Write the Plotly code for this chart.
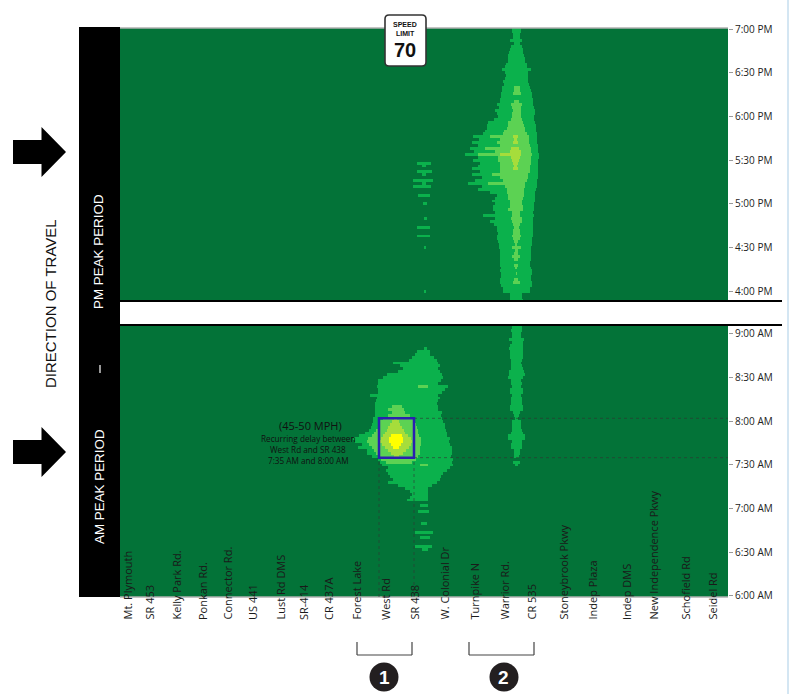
import numpy as np
import plotly.graph_objects as go

W, H = 790, 694

# ---------- data ----------
segment_names = ["Mt. Plymouth", "SR 453", "Kelly Park Rd.", "Ponkan Rd.", "Connector Rd.", "US 441",
                 "Lust Rd DMS", "SR-414", "CR 437A", "Forest Lake", "West Rd", "SR 438", "W. Colonial Dr",
                 "Turnpike N", "Warrior Rd.", "CR 535", "Stoneybrook Pkwy", "Indep Plaza", "Indep DMS",
                 "New Independence Pkwy", "Schofield Rd", "Seidel Rd"]
segment_pos = [127, 149, 176, 202, 227, 252, 280, 303, 328, 356, 385, 414, 444, 474, 504, 531, 563, 592, 626,
               653, 685, 712]

am_tick_vals = [360, 390, 420, 450, 480, 510, 540]
am_tick_text = ["6:00 AM", "6:30 AM", "7:00 AM", "7:30 AM", "8:00 AM", "8:30 AM", "9:00 AM"]
pm_tick_vals = [960, 990, 1020, 1050, 1080, 1110, 1140]
pm_tick_text = ["4:00 PM", "4:30 PM", "5:00 PM", "5:30 PM", "6:00 PM", "6:30 PM", "7:00 PM"]

# Extents of each speed band along the corridor, one entry every 2 minutes going back in time.
# 0 = the band is absent in that interval.
am_west_b1_start = 530
am_west_b1_left = [424, 417, 415, 412, 409, 393, 400, 403, 398, 387, 383, 378, 378, 377, 378, 378, 370, 377, 376,
                   375, 375, 375, 375, 375, 373, 373, 372, 371, 369, 365, 359, 353, 355, 362, 358, 367, 367, 372,
                   378, 380, 382, 388, 386, 388, 390, 393, 388, 398, 405, 410, 412, 410, 407, 0, 420, 0, 418,
                   0, 0, 0, 421, 0, 0, 415, 0, 420, 0, 0, 415, 422]
am_west_b1_right = [427, 430, 430, 434, 437, 438, 440, 438, 440, 442, 443, 441, 438, 448, 445, 442, 438, 440, 438,
                    437, 438, 438, 442, 441, 442, 443, 445, 445, 446, 447, 447, 450, 449, 450, 452, 452, 452, 451,
                    453, 452, 453, 450, 447, 443, 441, 440, 437, 432, 428, 428, 428, 428, 428, 0, 428, 0, 429,
                    0, 0, 0, 427, 0, 0, 433, 0, 430, 0, 0, 432, 428]
am_west_b2_start = 504
am_west_b2_left = [418, 0, 0, 0, 0, 0, 0, 392, 388, 392, 388, 383, 380, 379, 378, 376, 374, 372, 368, 367, 369,
                   372, 374, 376, 379, 381, 386, 420]
am_west_b2_right = [428, 0, 0, 0, 0, 0, 0, 402, 404, 405, 410, 415, 415, 416, 417, 418, 418, 419, 421, 421, 421,
                    420, 420, 420, 418, 416, 412, 428]
am_west_b3_start = 482
am_west_b3_left = [394, 392, 390, 388, 387, 385, 383, 381, 380, 382, 385, 388, 391, 394]
am_west_b3_right = [397, 399, 400, 402, 404, 405, 408, 411, 412, 411, 409, 406, 403, 399]
am_west_b4_start = 470
am_west_b4_left = [391, 389, 389, 391, 393]
am_west_b4_right = [402, 403, 403, 401, 399]

am_cr535_b1_start = 546
am_cr535_b1_left = [512, 512, 511, 512, 512, 509, 512, 510, 509, 510, 510, 510, 511, 511, 511, 511, 509, 509, 508,
                    511, 511, 512, 510, 510, 512, 511, 511, 511, 510, 510, 513, 514, 515, 512, 512, 512, 512, 511,
                    508, 508, 512, 511, 511, 514, 514, 514, 0, 513, 515]
am_cr535_b1_right = [522, 522, 522, 521, 521, 524, 523, 523, 523, 523, 523, 523, 522, 521, 522, 523, 524, 525, 523,
                     521, 522, 521, 523, 523, 521, 522, 522, 522, 523, 523, 520, 519, 518, 521, 521, 521, 522, 523,
                     525, 525, 522, 522, 522, 520, 520, 519, 0, 520, 518]

pm_cr535_b1_start = 1140
pm_cr535_b1_left = [512, 512, 513, 513, 510, 514, 511, 510, 509, 508, 508, 508, 506, 505, 502, 505, 506, 505, 503,
                    504, 502, 502, 501, 501, 500, 500, 497, 499, 495, 497, 498, 494, 488, 487, 487, 485, 483, 473,
                    479, 472, 478, 470, 474, 465, 478, 473, 480, 478, 472, 480, 472, 482, 475, 468, 482, 478, 490,
                    497, 495, 492, 495, 493, 493, 495, 483, 495, 490, 494, 497, 497, 498, 497, 497, 498, 499, 499,
                    500, 500, 500, 500, 500, 500, 501, 500, 501, 501, 500, 500, 501, 503, 503, 510, 510, 510]
pm_cr535_b1_right = [521, 521, 520, 520, 522, 520, 522, 523, 523, 524, 525, 525, 527, 527, 531, 528, 528, 528, 528,
                     529, 530, 531, 532, 532, 533, 533, 533, 534, 535, 535, 534, 534, 535, 536, 536, 536, 537, 537,
                     537, 537, 538, 538, 538, 539, 539, 538, 538, 538, 538, 538, 538, 538, 537, 537, 537, 536, 535,
                     535, 535, 535, 534, 534, 534, 533, 534, 533, 533, 533, 533, 533, 533, 533, 532, 532, 532, 531,
                     531, 531, 531, 531, 530, 530, 531, 532, 532, 531, 531, 532, 532, 530, 530, 522, 522, 523]
pm_cr535_b2_start = 1100
pm_cr535_b2_left = [514, 514, 513, 0, 0, 514, 511, 512, 513, 512, 512, 511, 508, 508, 507, 504, 503, 490, 500, 497,
                    500, 485, 495, 478, 498, 498, 500, 500, 500, 500, 492, 500, 503, 488, 505, 507, 507, 508, 508,
                    510, 510, 510, 508, 512, 512, 511, 512, 513, 514, 513, 513, 512, 513, 514, 515, 512, 515, 514,
                    512, 514, 0, 514, 515, 0, 516, 0, 514, 513]
pm_cr535_b2_right = [520, 520, 521, 0, 0, 519, 522, 521, 521, 521, 521, 522, 523, 524, 525, 525, 527, 529, 529, 529,
                     530, 531, 531, 532, 531, 531, 531, 530, 530, 530, 528, 528, 527, 525, 525, 524, 524, 524, 523,
                     522, 522, 523, 523, 520, 520, 522, 522, 520, 519, 520, 520, 521, 520, 518, 517, 521, 518, 518,
                     520, 518, 0, 518, 517, 0, 517, 0, 518, 520]
pm_cr535_b3_start = 1066
pm_cr535_b3_left = [513, 514, 513, 0, 511, 510, 500, 511, 512, 513, 514, 513]
pm_cr535_b3_right = [518, 517, 518, 0, 519, 521, 521, 520, 519, 518, 517, 518]

pm_sr438_b1_start = 1048
pm_sr438_b1_left = [417, 422, 0, 417, 422, 0, 413, 422, 413, 0, 0, 418, 0, 0, 423, 0, 0, 0, 0, 424, 0, 0, 417, 0, 0,
                    417, 0, 0, 0, 424, 0, 0, 0, 0, 0, 0, 0, 0, 0, 0, 0, 0, 0, 0, 424]
pm_sr438_b1_right = [431, 426, 0, 432, 426, 0, 433, 426, 431, 0, 0, 430, 0, 0, 427, 0, 0, 0, 0, 427, 0, 0, 430, 0, 0,
                     430, 0, 0, 0, 426, 0, 0, 0, 0, 0, 0, 0, 0, 0, 0, 0, 0, 0, 0, 426]

band_colors = ["#037338", "#0bb14c", "#5cd253", "#a6dd3b", "#ffff00"]

# ---------- build grids ----------
station = np.arange(120, 728) + 0.5
am_times = np.arange(546, 358, -2)
pm_times = np.arange(1140, 952, -2)
am_z = np.zeros((len(am_times), len(station)))
pm_z = np.zeros((len(pm_times), len(station)))


def paint(z, times, start, lefts, rights, level):
    for k, (l, r) in enumerate(zip(lefts, rights)):
        if l == 0:
            continue
        t = start - 2 * k
        row = np.where(times == t)[0]
        if len(row):
            z[row[0], (station >= l) & (station <= r)] = level


paint(am_z, am_times, am_west_b1_start, am_west_b1_left, am_west_b1_right, 1)
paint(am_z, am_times, am_cr535_b1_start, am_cr535_b1_left, am_cr535_b1_right, 1)
paint(am_z, am_times, am_west_b2_start, am_west_b2_left, am_west_b2_right, 2)
paint(am_z, am_times, am_west_b3_start, am_west_b3_left, am_west_b3_right, 3)
paint(am_z, am_times, am_west_b4_start, am_west_b4_left, am_west_b4_right, 4)
paint(pm_z, pm_times, pm_cr535_b1_start, pm_cr535_b1_left, pm_cr535_b1_right, 1)
paint(pm_z, pm_times, pm_sr438_b1_start, pm_sr438_b1_left, pm_sr438_b1_right, 1)
paint(pm_z, pm_times, pm_cr535_b2_start, pm_cr535_b2_left, pm_cr535_b2_right, 2)
paint(pm_z, pm_times, pm_cr535_b3_start, pm_cr535_b3_left, pm_cr535_b3_right, 3)

colorscale = []
for i, c in enumerate(band_colors):
    colorscale += [[i / 5, c], [(i + 1) / 5, c]]


def px(x):
    return x / W


def py(y):
    return 1 - y / H


fig = go.Figure()
fig.add_trace(go.Heatmap(x=station, y=pm_times, z=pm_z, zmin=0, zmax=5, colorscale=colorscale, showscale=False,
                         xaxis="x", yaxis="y", hoverinfo="skip"))
fig.add_trace(go.Heatmap(x=station, y=am_times, z=am_z, zmin=0, zmax=5, colorscale=colorscale, showscale=False,
                         xaxis="x2", yaxis="y2", hoverinfo="skip"))

shapes, ann = [], []


def paper_line(x0, y0, x1, y1, color, width, dash="solid"):
    shapes.append(dict(type="line", xref="paper", yref="paper", x0=px(x0), x1=px(x1), y0=py(y0), y1=py(y1),
                       line=dict(color=color, width=width, dash=dash), layer="above"))


def paper_path(points, fill, line_color=None, line_width=0):
    d = "M " + " L ".join(f"{px(a):.5f},{py(b):.5f}" for a, b in points) + " Z"
    shapes.append(dict(type="path", xref="paper", yref="paper", path=d, fillcolor=fill,
                       line=dict(color=line_color or fill, width=line_width), layer="above"))


def text(x, y, s, size, color="#1a1a1a", font="Open Sans", angle=0, xa="center", ya="middle"):
    ann.append(dict(xref="paper", yref="paper", x=px(x), y=py(y), text=s, showarrow=False, textangle=angle,
                    xanchor=xa, yanchor=ya, font=dict(family=font, size=size, color=color),
                    borderpad=0, borderwidth=0))


# black period bar
paper_path([(79, 27), (120, 27), (120, 597), (79, 597)], "#000000")
text(99, 252, "PM PEAK PERIOD", 13.4, "#ffffff", "Liberation Sans", -90)
text(99, 487, "AM PEAK PERIOD", 13.4, "#ffffff", "Liberation Sans", -90)
paper_line(100, 365, 100, 373, "#ffffff", 1.2)
text(50, 304, "DIRECTION OF TRAVEL", 15, "#111111", "Liberation Sans", -90)

# arrows
for cy in (152, 452):
    paper_path([(13, cy - 12), (41.5, cy - 12), (41.5, cy - 25), (66, cy), (41.5, cy + 25), (41.5, cy + 12),
                (13, cy + 12)], "#000000")

# frame lines
paper_line(120, 28, 728, 28, "#b0b0b0", 1.5)
paper_line(120, 597, 728, 597, "#b0b0b0", 1.5)
paper_line(120, 301, 782, 301, "#000000", 2)
paper_line(120, 325, 782, 325, "#000000", 2)
paper_line(788, 0, 788, 694, "#a9cde6", 1)

# recurring delay box, drawn on the AM axes
west_x, sr438_x, box_t0, box_t1 = 379, 414, 455, 482
for t in (box_t0, box_t1):
    shapes.append(dict(type="line", xref="x2", yref="y2", x0=sr438_x, x1=728, y0=t, y1=t,
                       line=dict(color="rgba(50,50,50,0.6)", width=1, dash="dot"), layer="above"))
for sx in (west_x, sr438_x):
    shapes.append(dict(type="line", xref="x2", yref="y2", x0=sx, x1=sx, y0=359.3, y1=box_t0,
                       line=dict(color="rgba(50,50,50,0.6)", width=1, dash="dot"), layer="above"))
shapes.append(dict(type="rect", xref="x2", yref="y2", x0=west_x, x1=sr438_x, y0=box_t0, y1=box_t1,
                   line=dict(color="#2a1fb0", width=2.5), layer="above"))

text(310, 425, "(45-50 MPH)", 11, "#111111")
text(308, 438, "Recurring delay between", 8.2, "#111111")
text(308, 449, "West Rd and SR 438", 8.2, "#111111")
text(308, 460, "7:35 AM and 8:00 AM", 8.2, "#111111")

# road labels
for name, pos in zip(segment_names, segment_pos):
    ann.append(dict(xref="x2", yref="paper", x=pos, y=py(622), text=name, showarrow=False, textangle=-90,
                    xanchor="center", yanchor="bottom", font=dict(family="Open Sans", size=11, color="#1a1a1a")))

# brackets and numbered circles
for x0, x1, cx, lab in ((357, 412, 384, "1"), (469, 534, 504, "2")):
    paper_line(x0, 642, x0, 655, "#444444", 1.2)
    paper_line(x1, 642, x1, 655, "#444444", 1.2)
    paper_line(x0, 655, x1, 655, "#444444", 1.2)
    shapes.append(dict(type="circle", xref="paper", yref="paper", x0=px(cx - 14.5), x1=px(cx + 14.5),
                       y0=py(691.5), y1=py(662.5), fillcolor="#231f20", line=dict(width=0), layer="above"))
    text(cx, 677, lab, 19, "#ffffff", "Liberation Sans")
    ann[-1]["text"] = f"<b>{lab}</b>"

# speed limit sign
d = (f"M {px(389):.5f},{py(15):.5f} L {px(422):.5f},{py(15):.5f} Q {px(426):.5f},{py(15):.5f} {px(426):.5f},{py(19):.5f} "
     f"L {px(426):.5f},{py(62):.5f} Q {px(426):.5f},{py(66):.5f} {px(422):.5f},{py(66):.5f} "
     f"L {px(389):.5f},{py(66):.5f} Q {px(385):.5f},{py(66):.5f} {px(385):.5f},{py(62):.5f} "
     f"L {px(385):.5f},{py(19):.5f} Q {px(385):.5f},{py(15):.5f} {px(389):.5f},{py(15):.5f} Z")
shapes.append(dict(type="path", xref="paper", yref="paper", path=d, fillcolor="#ffffff",
                   line=dict(color="#333333", width=1.6), layer="above"))
text(405.5, 25, "<b>SPEED</b>", 7, "#111111", "Liberation Sans")
text(405.5, 33, "<b>LIMIT</b>", 7, "#111111", "Liberation Sans")
text(405.5, 50, "<b>70</b>", 20, "#111111", "Liberation Sans")

axis_common = dict(showgrid=False, zeroline=False, showline=False, automargin=False)
tick_style = dict(ticks="outside", ticklen=4, tickwidth=1, tickcolor="#999999", side="right",
                  tickfont=dict(family="Open Sans", size=10, color="#222222"))

fig.update_layout(
    width=W, height=H, margin=dict(l=0, r=0, t=0, b=0, pad=0), autosize=False,
    paper_bgcolor="#ffffff", plot_bgcolor="#ffffff", showlegend=False,
    xaxis=dict(domain=[px(120), px(728)], range=[120, 728], anchor="y", showticklabels=False, ticks="", **axis_common),
    yaxis=dict(domain=[py(300), py(28)], range=[953.9, 1140.7], anchor="x", tickmode="array",
               tickvals=pm_tick_vals, ticktext=pm_tick_text, **tick_style, **axis_common),
    xaxis2=dict(domain=[px(120), px(728)], range=[120, 728], anchor="y2", showticklabels=False, ticks="", **axis_common),
    yaxis2=dict(domain=[py(597), py(326)], range=[359.3, 545.4], anchor="x2", tickmode="array",
                tickvals=am_tick_vals, ticktext=am_tick_text, **tick_style, **axis_common),
    shapes=shapes, annotations=ann,
)

fig.write_html("out.html", config={"displayModeBar": False},
               post_script="document.body.style.margin='0';"
               "document.body.style.overflow='hidden';"
               "var gd=document.getElementsByClassName('plotly-graph-div')[0];"
               "gd.style.position='absolute';gd.style.left='0';gd.style.top='0';")
